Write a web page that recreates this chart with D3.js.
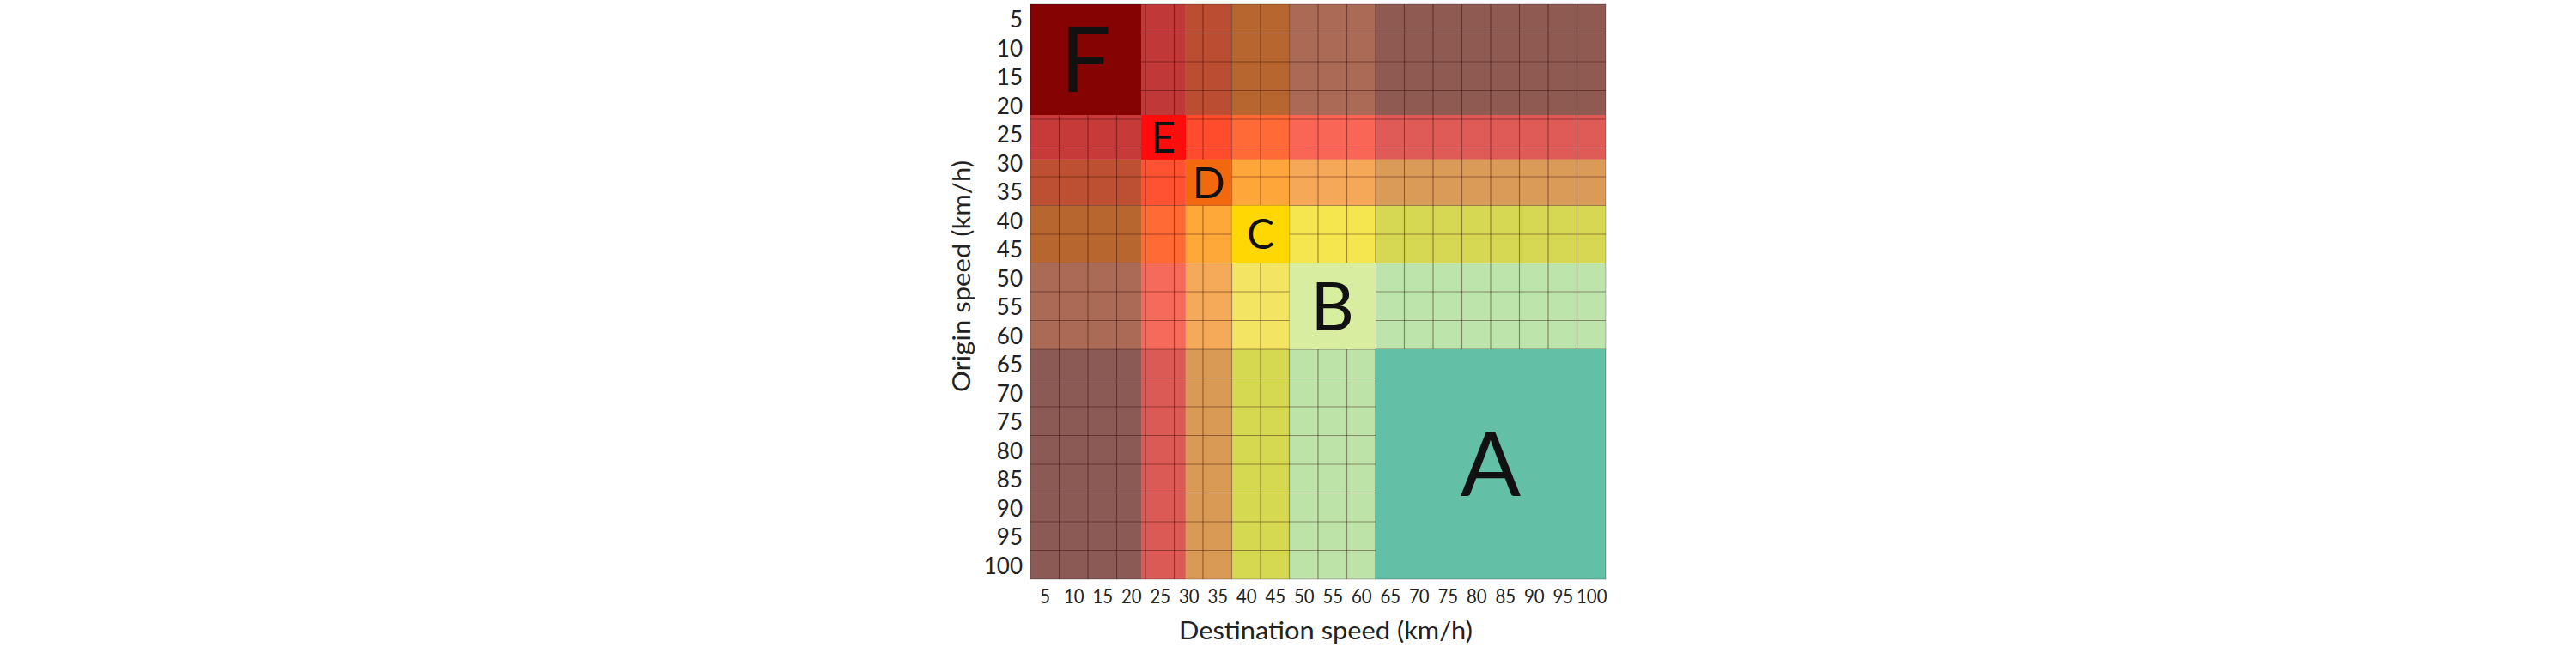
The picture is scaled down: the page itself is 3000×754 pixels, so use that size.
<!DOCTYPE html>
<html>
<head>
<meta charset="utf-8">
<script src="https://cdn.jsdelivr.net/npm/d3@7"></script>
<style>
  body { margin: 0; background: #fff; }
  text { font-family: Lato, "Open Sans", sans-serif; fill: #1a1a1a; }
</style>
</head>
<body>
<div id="chart"></div>
<script>
// speed classes (level of service), best last
const bands = ["F", "E", "D", "C", "B", "A"];
// class limits in km/h, shared by origin and destination axes
const bandEdges = [2.5, 21.75, 29.5, 37.5, 47.5, 62.5, 102.5];
// tick labels, one per 5 km/h cell
const speedTicks = d3.range(5, 101, 5);
// colour of each origin class (row) x destination class (column)
const cellColors = [
    ["#850303", "#c03838", "#bb4d32", "#b7662f", "#ab6a55", "#8f5a52"],
    ["#c63a3a", "#ff0d0d", "#ff4c2c", "#ff6a36", "#f96656", "#de5b58"],
    ["#bd5033", "#ff5233", "#f2680e", "#ffa63a", "#f5a858", "#da9a58"],
    ["#b8662f", "#ff6a35", "#ffa83a", "#ffd804", "#f5e650", "#d6d853"],
    ["#ab6a55", "#f56a5a", "#f5aa5a", "#f3e563", "#d8eda0", "#bde4aa"],
    ["#8c5a55", "#dc5a56", "#d99a56", "#d5d851", "#bde3a8", "#63bfa5"]
];

const width = 3000, height = 754;
const grid = { left: 1200, top: 5, size: 670 };

const svg = d3.select("#chart")
    .append("svg")
    .attr("width", width)
    .attr("height", height);

// Set the ranges
let x = d3.scaleLinear().domain([2.5, 102.5]).range([grid.left, grid.left + grid.size]);
let y = d3.scaleLinear().domain([2.5, 102.5]).range([grid.top, grid.top + grid.size]);

// one rect per (origin class, destination class)
let cells = [];
bands.forEach((r, i) => {
    bands.forEach((c, j) => {
        cells.push({ row: i, col: j, color: cellColors[i][j] });
    });
});

const cellRect = sel => sel
    .attr("x", d => x(bandEdges[d.col]))
    .attr("y", d => y(bandEdges[d.row]))
    .attr("width", d => x(bandEdges[d.col + 1]) - x(bandEdges[d.col]))
    .attr("height", d => y(bandEdges[d.row + 1]) - y(bandEdges[d.row]))
    .attr("fill", d => d.color);

svg.append("g").selectAll("rect")
    .data(cells)
    .join("rect")
    .call(cellRect);

// thin grid at every 5 km/h cell border
const borders = d3.range(7.5, 100, 5);
const lines = svg.append("g")
    .attr("stroke", "rgba(40,0,0,0.4)")
    .attr("stroke-width", 1.2);
lines.selectAll("line.v")
    .data(borders)
    .join("line")
    .attr("class", "v")
    .attr("x1", d => x(d)).attr("x2", d => x(d))
    .attr("y1", y(2.5)).attr("y2", y(102.5));
lines.selectAll("line.h")
    .data(borders)
    .join("line")
    .attr("class", "h")
    .attr("y1", d => y(d)).attr("y2", d => y(d))
    .attr("x1", x(2.5)).attr("x2", x(102.5));

// the diagonal blocks sit on top of the grid
const diag = cells.filter(d => d.row === d.col);
svg.append("g").selectAll("rect")
    .data(diag)
    .join("rect")
    .call(cellRect);

// outer edge
svg.append("rect")
    .attr("x", x(2.5)).attr("y", y(2.5))
    .attr("width", grid.size).attr("height", grid.size)
    .attr("fill", "none")
    .attr("stroke", "rgba(0,0,0,0.25)");

// class letters
const letterSize = { F: 104, E: 50, D: 50, C: 48, B: 78, A: 104 };
svg.append("g").selectAll("text")
    .data(diag)
    .join("text")
    .attr("x", d => x((bandEdges[d.col] + bandEdges[d.col + 1]) / 2))
    .attr("y", d => y((bandEdges[d.row] + bandEdges[d.row + 1]) / 2))
    .attr("dy", "0.36em")
    .attr("text-anchor", "middle")
    .style("font-size", d => letterSize[bands[d.row]] + "px")
    .style("fill", "#111")
    .text(d => bands[d.row]);

// Add the Y Axis
const yAxis = svg.append("g")
    .attr("transform", "translate(" + grid.left + ",0)")
    .call(d3.axisLeft(y).tickValues(speedTicks).tickSize(0).tickPadding(9));
yAxis.select(".domain").remove();
yAxis.selectAll("text")
    .style("font-size", "26px")
    .attr("dy", "0.38em")
    .style("fill", "#222");

// Add the X Axis (labels slightly condensed, like the original)
const xAxis = svg.append("g")
    .attr("transform", "translate(0," + (grid.top + grid.size) + ")")
    .call(d3.axisBottom(x).tickValues(speedTicks).tickSize(0).tickPadding(12));
xAxis.select(".domain").remove();
xAxis.selectAll("text")
    .style("font-size", "23px")
    .attr("textLength", d => String(d).length * 11.8)
    .attr("lengthAdjust", "spacingAndGlyphs")
    .style("fill", "#222");

// axis titles
svg.append("text")
    .attr("x", 1544)
    .attr("y", 745)
    .attr("text-anchor", "middle")
    .attr("textLength", 342)
    .attr("lengthAdjust", "spacingAndGlyphs")
    .style("font-size", "28px")
    .style("fill", "#222")
    .text("Destination speed (km/h)");

svg.append("text")
    .attr("transform", "translate(1130,322) rotate(-90)")
    .attr("text-anchor", "middle")
    .attr("textLength", 270)
    .attr("lengthAdjust", "spacingAndGlyphs")
    .style("font-size", "28px")
    .style("fill", "#222")
    .text("Origin speed (km/h)");
</script>
</body>
</html>
